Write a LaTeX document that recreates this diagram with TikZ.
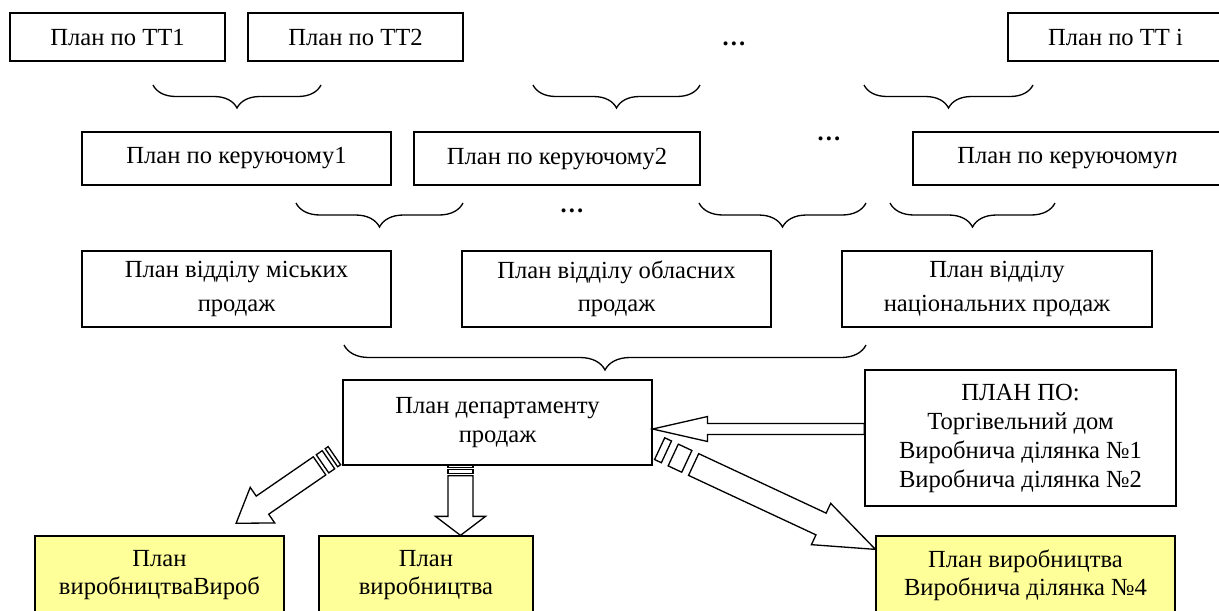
\documentclass[tikz,border=0pt]{standalone}
\usepackage{fontspec}
\setmainfont{Liberation Serif}
\usetikzlibrary{calc,decorations.pathreplacing}

\definecolor{planyellow}{RGB}{255,255,153}

\tikzset{
	box/.style={draw, line width=0.75pt, inner sep=0pt, align=center, font=\fontsize{14}{16}\selectfont},
	tallbox/.style={box, font=\fontsize{14}{19}\selectfont},
	planbox/.style={box, fill=planyellow},
	brc/.style={decorate, decoration={brace, amplitude=#1}, line width=0.75pt},
	arrbody/.style={draw, fill=white, line width=0.75pt},
	dots/.style={font=\fontsize{14}{16}\selectfont\bfseries, anchor=base, inner sep=0pt}
}

% from, to, half shaft, half head, head length, stripe unit
\newcommand{\blockarrow}[6]{%
	\path let \p1=(#1), \p2=(#2) in \pgfextra{%
		\pgfmathsetmacro\arang{atan2(\y2-\y1,\x2-\x1)}%
		\pgfmathsetmacro\arlen{veclen(\x2-\x1,\y2-\y1)/0.569055}%
		\xdef\arang{\arang}\xdef\arlen{\arlen}\xdef\arx{\x1}\xdef\ary{\y1}};
	\begin{scope}[shift={(\arx,\ary)}, rotate=\arang, x=0.02cm, y=0.02cm]
		\ifdim#6pt>0pt
			\draw[arrbody] (0,-#3) rectangle (#6,#3) (2*#6,-#3) rectangle (4*#6,#3);
		\fi
		\draw[arrbody] (5*#6,-#3) -- (\arlen-#5,-#3) -- (\arlen-#5,-#4) -- (\arlen,0)
			-- (\arlen-#5,#4) -- (\arlen-#5,#3) -- (5*#6,#3) -- cycle;
	\end{scope}}

\begin{document}
\begin{tikzpicture}[x=0.02cm, y=-0.02cm]
			\useasboundingbox (0,0) rectangle (1219,610);
			\clip (0,0) rectangle (1219,610);

			\node[box, minimum width=4.3cm, minimum height=0.96cm] (tt1) at (117.5,37) {План по ТТ1};
			\node[box, minimum width=4.3cm, minimum height=0.96cm] (tt2) at (355.5,37) {План по ТТ2};
			\node[dots] (dotsa) at (734,45.5) {…};
			\node[box, minimum width=4.3cm, minimum height=0.96cm] (tti) at (1115.5,37) {План по ТТ i};

			\draw[brc=0.46cm] (321,85) -- (153,85);
			\draw[brc=0.46cm] (700,85) -- (533,85);
			\draw[brc=0.46cm] (1033,85) -- (864,85);

			\node[box, minimum width=6.18cm, minimum height=1.06cm] (ker1) at (236.5,158.5) {План по керуючому1};
			\node[box, minimum width=5.72cm, minimum height=1.06cm] (ker2) at (557,158.5) {План по керуючому2};
			\node[dots] (dotsb) at (829,140.5) {…};
			\node[box, minimum width=6.18cm, minimum height=1.06cm] (kern) at (1067.5,158.5) {План по керуючому\textit{n}};

			\draw[brc=0.48cm] (463,203) -- (296,203);
			\node[dots] (dotsc) at (572,212.5) {…};
			\draw[brc=0.48cm] (866,203) -- (699,203);
			\draw[brc=0.48cm] (1055,203) -- (890,203);

			\node[tallbox, minimum width=6.18cm, minimum height=1.52cm] (misk) at (236.5,289) {План відділу міських\\продаж};
			\node[tallbox, minimum width=6.18cm, minimum height=1.52cm] (obl) at (616.5,289) {План відділу обласних\\продаж};
			\node[tallbox, minimum width=6.2cm, minimum height=1.52cm] (nac) at (997,289) {План відділу\\національних продаж};

			\draw[brc=0.5cm] (866,345) -- (344,345);

			\node[box, minimum width=6.18cm, minimum height=1.7cm] (dept) at (497.5,422.5) {План департаменту\\продаж};
			\node[box, font=\fontsize{14}{16.5}\selectfont, minimum width=6.22cm, minimum height=2.72cm] (planpo) at (1020.5,438) {ПЛАН ПО:\\Торгівельний дом\\Виробнича ділянка №1\\Виробнича ділянка №2};

			\node[planbox, minimum width=4.98cm, minimum height=1.56cm] (vyr1) at (159.5,575) {План\\виробництваВироб};
			\node[planbox, minimum width=4.28cm, minimum height=1.56cm] (vyr2) at (426,575) {План\\виробництва};
			\node[planbox, minimum width=5.98cm, minimum height=1.56cm] (vyr3) at (1025.5,575) {План виробництва\\Виробнича ділянка №4};

			\coordinate (hs) at ($(planpo.west)+(0,-9)$);
			\coordinate (he) at (dept.east |- hs);
			\blockarrow{hs}{he}{5.5}{12.5}{55}{0}

			\coordinate (ds) at ($(dept.south)+(-37,0)$);
			\coordinate (de) at (ds |- vyr2.north);
			\blockarrow{ds}{de}{12.5}{25}{19}{2}

			\coordinate (ls) at ($(dept.south west)+(-8,-10)$);
			\coordinate (le) at ($(vyr1.north)+(76.5,-12)$);
			\blockarrow{ls}{le}{11}{21.6}{32}{3.6}

			\coordinate (rs) at ($(dept.south east)+(7,-17)$);
			\coordinate (re) at ($(vyr3.north west)+(0,14)$);
			\blockarrow{rs}{re}{12}{22.8}{60}{7.5}
		\end{tikzpicture}
\end{document}
